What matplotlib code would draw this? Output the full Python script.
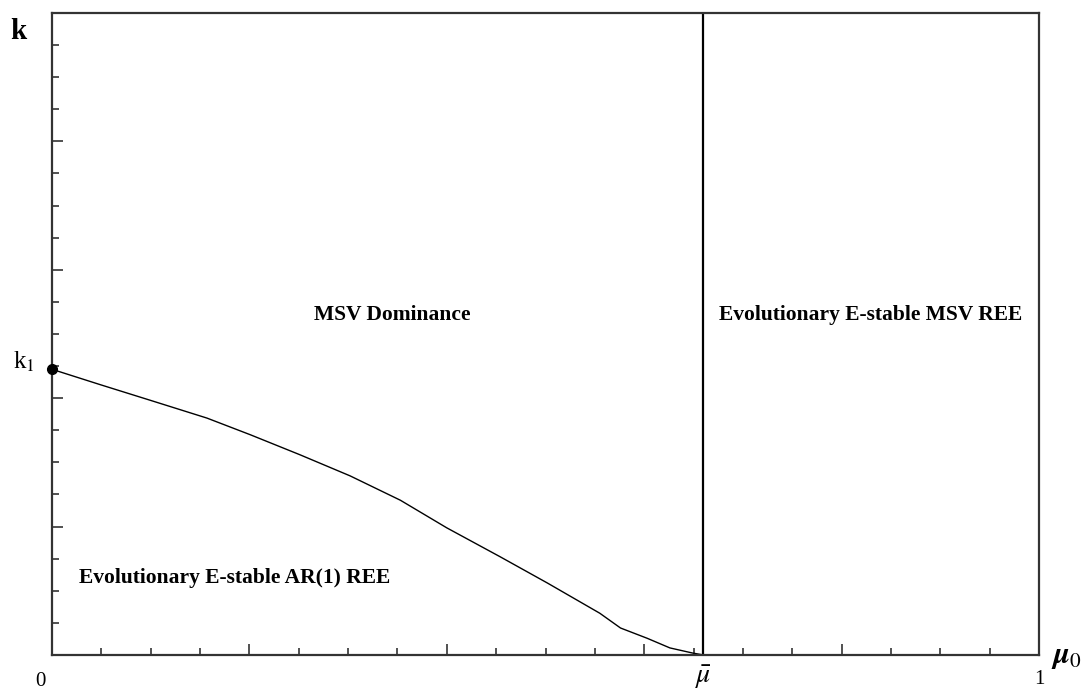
import matplotlib.pyplot as plt
from matplotlib.ticker import MultipleLocator
import matplotlib.transforms as mtransforms

plt.rcParams['font.family'] = ['Liberation Serif', 'DejaVu Serif']
plt.rcParams['mathtext.fontset'] = 'stix'

# boundary curve between AR(1) and MSV regions
mu0 = [0.0, 0.049, 0.099, 0.157, 0.201, 0.251, 0.302, 0.353, 0.400,
       0.454, 0.502, 0.555, 0.576, 0.603, 0.626, 0.649, 0.660]
k = [0.445, 0.421, 0.397, 0.369, 0.343, 0.312, 0.279, 0.241, 0.198,
     0.153, 0.112, 0.065, 0.042, 0.026, 0.011, 0.003, 0.0]
mu_bar = 0.66
k1 = 0.445

fig = plt.figure(figsize=(10.83, 6.95), dpi=100)
ax = fig.add_axes([0.048, 0.0576, 0.9114, 0.9237])

ax.plot(mu0, k, color='black', lw=1.0)
ax.plot([mu_bar, mu_bar], [0, 1], color='black', lw=1.6)
ax.plot([0], [k1], 'o', color='black', ms=7, clip_on=False, zorder=5)

ax.set_xlim(0, 1)
ax.set_ylim(0, 1)
for s in ax.spines.values():
    s.set_linewidth(1.6)
    s.set_color('#333333')

ax.xaxis.set_major_locator(MultipleLocator(0.2))
ax.xaxis.set_minor_locator(MultipleLocator(0.05))
ax.yaxis.set_major_locator(MultipleLocator(0.2))
ax.yaxis.set_minor_locator(MultipleLocator(0.05))
ax.tick_params(which='both', direction='in', top=False, right=False,
               labelbottom=False, labelleft=False, color='#333333')
ax.tick_params(which='major', length=8, width=1.2)
ax.tick_params(which='minor', length=5, width=1.2)

tx = mtransforms.blended_transform_factory(ax.transData, fig.transFigure)
ax.text(-0.012, 0.02, '0', transform=tx, ha='center', va='center', fontsize=15)
ax.text(1, 0.022, '1', transform=tx, ha='center', va='center', fontsize=15)
ax.text(mu_bar, 0.025, r'$\bar{\mu}$', transform=tx, ha='center', va='center', fontsize=20)

fig.text(0.985, 0.055, r'$\boldsymbol{\mu}_0$', ha='center', va='center', fontsize=22)
fig.text(0.017, 0.955, 'k', ha='center', va='center', fontsize=21, fontweight='bold')

ty = mtransforms.blended_transform_factory(fig.transFigure, ax.transData)
ax.text(0.022, k1 + 0.012, r'k$_1$', transform=ty, ha='center', va='center', fontsize=18)

bold = dict(fontsize=15.5, fontweight='bold', ha='center', va='center')
ax.text(0.345, 0.529, 'MSV Dominance', **bold)
ax.text(0.829, 0.529, 'Evolutionary E-stable MSV REE', **bold)
ax.text(0.185, 0.12, 'Evolutionary E-stable AR(1) REE', **bold)

fig.savefig('out.png', dpi=100)
